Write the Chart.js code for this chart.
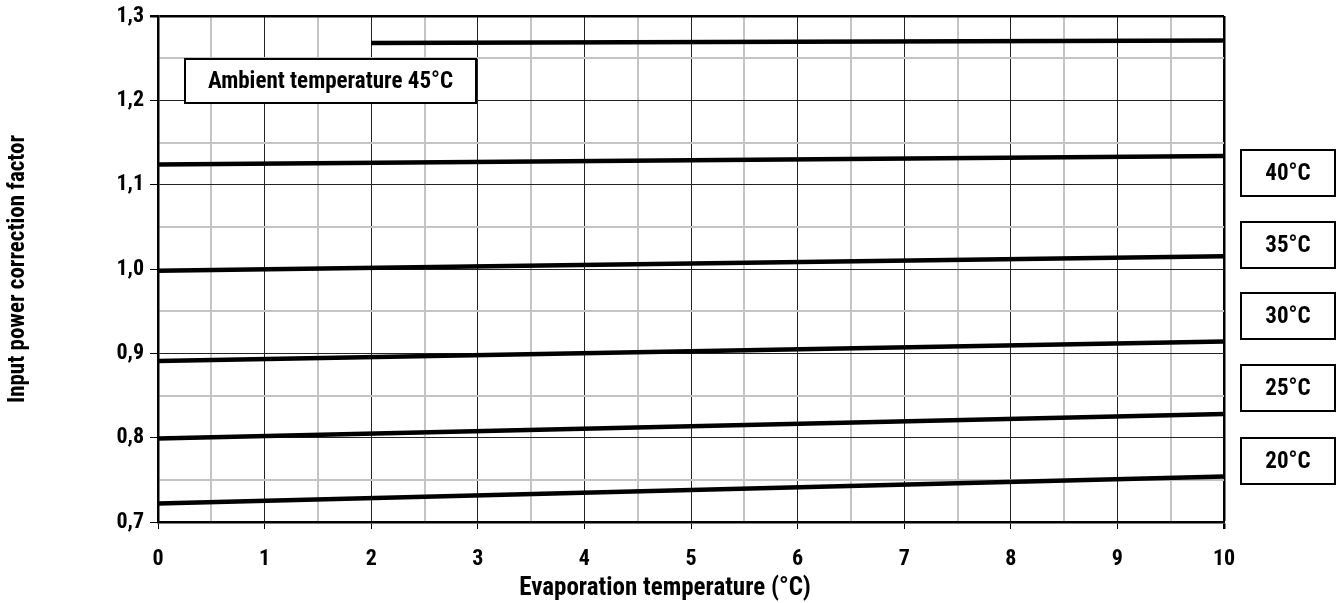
<!DOCTYPE html>
<html>
<head>
<meta charset="utf-8">
<script src="https://cdn.jsdelivr.net/npm/chart.js@4"></script>
<style>
  html, body { margin: 0; padding: 0; background: #fff; }
  #wrap { width: 1342px; height: 603px; position: relative; }
</style>
</head>
<body>
<div id="wrap"><canvas id="chart"></canvas></div>
<script>
// Correction factor vs evaporation temperature, one line per ambient temperature
const evapX   = [0, 10]
const evapX45 = [2, 10]
const amb20 = [0.722, 0.754]
const amb25 = [0.799, 0.828]
const amb30 = [0.891, 0.914]
const amb35 = [0.998, 1.015]
const amb40 = [1.124, 1.134]
const amb45 = [1.268, 1.271]

const ambLabels = ['20°C', '25°C', '30°C', '35°C', '40°C']
const xTicks = [0, 1, 2, 3, 4, 5, 6, 7, 8, 9, 10]
const yTicks = [0.7, 0.8, 0.9, 1.0, 1.1, 1.2, 1.3]

const FONT = "'Roboto Condensed', 'Liberation Sans Narrow', 'Arial Narrow', sans-serif"

const toPts = (xs, ys) => xs.map((x, i) => ({ x, y: ys[i] }))
const line = (xs, ys) => ({
  data: toPts(xs, ys), borderColor: '#000', borderWidth: 4.5,
  pointRadius: 0, fill: false, tension: 0
})

const isMajorY = v => Math.abs(v * 10 - Math.round(v * 10)) < 1e-6
const isMajorX = v => Math.abs(v - Math.round(v)) < 1e-6

// Boxed text labels: ambient title inside the plot, temperatures right of it,
// plus the x axis title (sits a bit left of the plot centre)
const boxLabels = {
  id: 'boxLabels',
  afterDatasetsDraw(chart) {
    const { ctx } = chart
    const drawBox = (x, y, w, h, text) => {
      ctx.save()
      ctx.fillStyle = '#fff'
      ctx.fillRect(x, y, w, h)
      ctx.strokeStyle = '#000'; ctx.lineWidth = 2
      ctx.strokeRect(x, y, w, h)
      ctx.fillStyle = '#000'
      ctx.font = `bold 23px ${FONT}`
      ctx.textAlign = 'center'; ctx.textBaseline = 'middle'
      ctx.fillText(text, x + w / 2, y + h / 2 + 1)
      ctx.restore()
    }
    drawBox(185, 59, 291, 44, 'Ambient temperature 45°C')
    const tops = [438, 365, 293, 222, 150]
    ambLabels.forEach((t, i) => drawBox(1241, tops[i], 94, 46, t))

    ctx.save()
    ctx.fillStyle = '#000'
    ctx.font = `bold 25px ${FONT}`
    ctx.textAlign = 'center'; ctx.textBaseline = 'middle'
    ctx.fillText('Evaporation temperature (°C)', 665, 589)
    ctx.restore()
  }
}

new Chart(document.getElementById('chart'), {
  type: 'scatter',
  plugins: [boxLabels],
  data: {
    datasets: [
      line(evapX, amb20), line(evapX, amb25), line(evapX, amb30),
      line(evapX, amb35), line(evapX, amb40), line(evapX45, amb45)
    ]
  },
  options: {
    responsive: true, maintainAspectRatio: false, animation: false,
    showLine: true,
    layout: { padding: { left: 0, right: 118, top: 16, bottom: 0 } },
    plugins: { legend: { display: false }, tooltip: { enabled: false } },
    scales: {
      x: {
        type: 'linear', min: 0, max: 10,
        afterBuildTicks: s => { s.ticks = []; for (let v = 0; v <= 10.001; v += 0.5) s.ticks.push({ value: +v.toFixed(1) }) },
        afterFit: s => { s.height = 81 },
        border: { color: '#000', width: 2.5 },
        grid: {
          color: c => c.tick.value === 10 ? '#000' : (isMajorX(c.tick.value) ? '#222' : '#c4c4c4'),
          lineWidth: c => c.tick.value === 10 ? 2.5 : (isMajorX(c.tick.value) ? 1 : 2),
          tickColor: c => isMajorX(c.tick.value) ? '#000' : 'rgba(0,0,0,0)',
          tickLength: 7
        },
        ticks: {
          autoSkip: false, maxRotation: 0, padding: 17,
          color: '#000', font: { family: FONT, size: 22, weight: 'bold' },
          callback: v => xTicks.includes(v) ? String(v) : ''
        },
        title: { display: false }
      },
      y: {
        type: 'linear', min: 0.7, max: 1.3,
        afterBuildTicks: s => { s.ticks = []; for (let i = 0; i <= 12; i++) s.ticks.push({ value: +(0.7 + i * 0.05).toFixed(2) }) },
        // fixed axis width; let the top label overhang the layout padding
        afterFit: s => { s.width = 158; s.paddingTop = 0; s.paddingBottom = 0 },
        border: { color: '#000', width: 2.5 },
        grid: {
          color: c => c.tick.value === 1.3 ? '#000' : (isMajorY(c.tick.value) ? '#222' : '#c4c4c4'),
          lineWidth: c => c.tick.value === 1.3 ? 2.5 : (isMajorY(c.tick.value) ? 1 : 2),
          tickColor: c => isMajorY(c.tick.value) ? '#000' : 'rgba(0,0,0,0)',
          tickLength: 8
        },
        ticks: {
          autoSkip: false, padding: 6,
          color: '#000', font: { family: FONT, size: 22, weight: 'bold' },
          callback: v => yTicks.some(t => Math.abs(t - v) < 1e-6) ? v.toFixed(1).replace('.', ',') : ''
        },
        title: {
          display: true, text: 'Input power correction factor', color: '#000',
          font: { family: FONT, size: 23, weight: 'bold' }, padding: { bottom: 0 }
        }
      }
    }
  }
})
</script>
</body>
</html>
